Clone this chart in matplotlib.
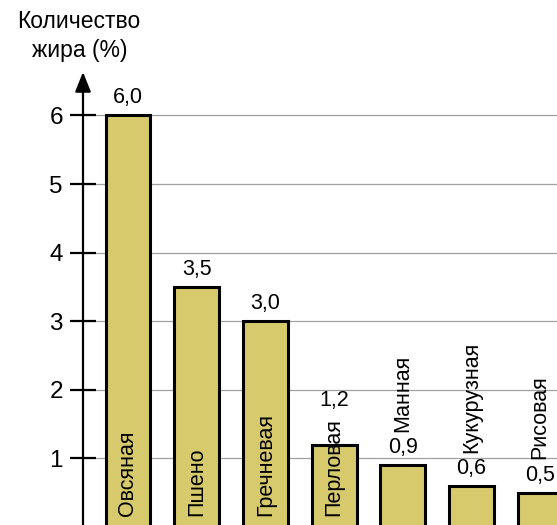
import matplotlib
matplotlib.use("Agg")
import matplotlib.pyplot as plt

# fat content of cereals, %
cereals = ["Овсяная", "Пшено", "Гречневая", "Перловая", "Манная", "Кукурузная", "Рисовая"]
fat = [6.0, 3.5, 3.0, 1.2, 0.9, 0.6, 0.5]
value_labels = ["6,0", "3,5", "3,0", "1,2", "0,9", "0,6", "0,5"]
inside = [True, True, True, True, False, False, False]
yticks = [1, 2, 3, 4, 5, 6]

plt.rcParams["font.family"] = ["Liberation Sans", "DejaVu Sans"]

W, H = 557, 525
fig = plt.figure(figsize=(W / 100, H / 100), dpi=100)

ax_left, ax_bottom, ax_top = 83, 527, 72   # pixels
unit = 68.6                                 # pixels per 1 %
ax = fig.add_axes([ax_left / W, (H - ax_bottom) / H, 1 - ax_left / W,
                   (ax_bottom - ax_top) / H])
ax.set_ylim(0, (ax_bottom - ax_top) / unit)
step = 68.7
ax.set_xlim(-(128 - ax_left) / step, (W - 128) / step)

for s in ax.spines.values():
    s.set_visible(False)

x = list(range(len(cereals)))
ax.bar(x, fat, width=0.655, color="#d7ca6c", edgecolor="black",
       linewidth=2.2, zorder=3)

# gridlines and ticks
for t in yticks:
    ax.axhline(t, color="#a0a0a0", lw=0.9, zorder=1)
ax.set_yticks(yticks)
ax.set_yticklabels([str(t) for t in yticks], fontsize=17.5)
ax.tick_params(axis="y", direction="inout", length=19, width=1.6, pad=5)
ax.set_xticks([])

# y axis with arrow
ax.annotate("", xy=(0, 1), xytext=(0, 0), xycoords="axes fraction",
            arrowprops=dict(arrowstyle="-|>,head_length=0.6,head_width=0.24",
                            mutation_scale=20, color="black", lw=1.6,
                            shrinkA=0, shrinkB=0), annotation_clip=False)

fig.text(79 / W, 1 - 22 / H, "Количество", ha="center", va="center", fontsize=16.5)
fig.text(80 / W, 1 - 50 / H, "жира (%)", ha="center", va="center", fontsize=16.5)

# names inside bars
name_texts = {}
for i, name in enumerate(cereals):
    if inside[i]:
        name_texts[i] = ax.text(i, 0.16, name, rotation=90, ha="center",
                                va="bottom", fontsize=15.5, zorder=4)

fig.canvas.draw()
inv = ax.transData.inverted()

for i, v in enumerate(fat):
    top = v
    if i in name_texts:
        bb = name_texts[i].get_window_extent()
        top = max(top, inv.transform((0, bb.y1))[1])
    ax.annotate(value_labels[i], (i, top), xytext=(0, 5),
                textcoords="offset points", ha="center", va="bottom",
                fontsize=15.5)
    if not inside[i]:
        ax.annotate(cereals[i], (i, v), xytext=(0, 24),
                    textcoords="offset points", ha="center", va="bottom",
                    rotation=90, fontsize=15.5)

fig.savefig("out.png", dpi=100)
